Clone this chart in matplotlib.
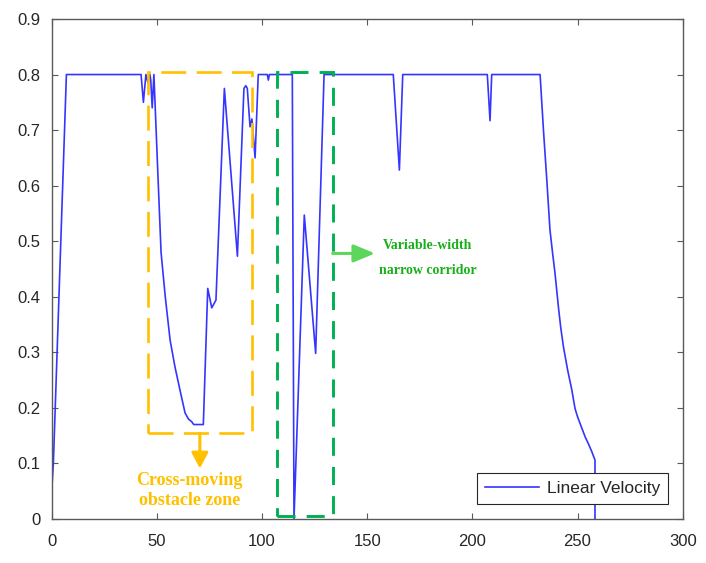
import numpy as np
import matplotlib
matplotlib.use('Agg')
import matplotlib.pyplot as plt
from matplotlib.patches import Rectangle, FancyArrowPatch

# --- Data ---
t = [0, 0.8, 7.0, 42.5, 43.6, 44.8, 45.8, 46.7, 47.1, 47.8, 48.6,
     50.5, 52.0, 54.0, 56.3, 58.6, 61.0, 63.4, 65.0, 66.6, 67.5, 72.1, 74.2, 76.1, 78.1,
     82.1, 88.3, 91.4, 92.3, 93.0, 94.3, 95.2, 96.7, 98.2,
     102.5, 103.0, 103.5, 114.4, 115.2, 120.1, 125.5, 129.5,
     162.4, 165.3, 166.9, 207.1, 208.4, 209.2, 232.2,
     233.0, 233.8, 234.6, 235.4, 236.9, 238.1, 239.3, 240.9, 242.0, 243.3, 245.3,
     247.3, 248.8, 250.0, 251.2, 252.4, 253.6, 255.2, 256.8, 258.3, 258.3]
velocity = [0.05, 0.10, 0.80, 0.80, 0.75, 0.80, 0.785, 0.80, 0.79, 0.74, 0.80,
            0.62, 0.48, 0.40, 0.322, 0.274, 0.232, 0.191, 0.18, 0.175, 0.17, 0.17, 0.415, 0.38, 0.394,
            0.775, 0.473, 0.775, 0.78, 0.775, 0.706, 0.72, 0.65, 0.80,
            0.80, 0.79, 0.80, 0.80, 0.0, 0.547, 0.298, 0.80,
            0.80, 0.628, 0.80, 0.80, 0.717, 0.80, 0.80,
            0.75, 0.70, 0.655, 0.61, 0.52, 0.48, 0.442, 0.382, 0.345, 0.31, 0.268,
            0.232, 0.199, 0.184, 0.172, 0.16, 0.148, 0.135, 0.121, 0.106, 0.0]

x_ticks = [0, 50, 100, 150, 200, 250, 300]
y_ticks = [0, 0.1, 0.2, 0.3, 0.4, 0.5, 0.6, 0.7, 0.8, 0.9]
y_tick_labels = ['0', '0.1', '0.2', '0.3', '0.4', '0.5', '0.6', '0.7', '0.8', '0.9']

# vung danh dau (x0, x1, y0, y1)
obstacle_box = [45.9, 95.0, 0.154, 0.805]
corridor_box = [107.3, 133.6, 0.005, 0.804]

plt.rcParams['font.family'] = ['Liberation Sans', 'DejaVu Sans']
plt.rcParams['lines.scale_dashes'] = False

axis_color = '#595959'
orange = '#FFC000'
green_box = '#00B050'
green_arrow = '#5CD65C'
green_text = '#18B018'

fig = plt.figure(figsize=(7.06, 5.63), dpi=100)
ax = fig.add_axes([0.0732, 0.0782, 0.8938, 0.8881])

ax.plot(t, velocity, color='#3535FF', lw=1.2, label='Linear Velocity')

# khung nét đứt
bx = Rectangle((obstacle_box[0], obstacle_box[2]), obstacle_box[1] - obstacle_box[0],
               obstacle_box[3] - obstacle_box[2], fill=False, edgecolor=orange,
               lw=1.9, linestyle=(0, (18, 7.5)), zorder=3)
ax.add_patch(bx)
gx = Rectangle((corridor_box[0], corridor_box[2]), corridor_box[1] - corridor_box[0],
               corridor_box[3] - corridor_box[2], fill=False, edgecolor=green_box,
               lw=2.1, linestyle=(0, (13, 8)), zorder=3)
ax.add_patch(gx)

# mũi tên
mid_x = (obstacle_box[0] + obstacle_box[1]) / 2
arr1 = FancyArrowPatch((mid_x, obstacle_box[2]), (mid_x, 0.091),
                       arrowstyle='-|>,head_length=0.47,head_width=0.25',
                       mutation_scale=20, color=orange, lw=2.2,
                       shrinkA=0, shrinkB=0, zorder=4)
ax.add_patch(arr1)
arr2 = FancyArrowPatch((corridor_box[1], 0.478), (153.7, 0.478),
                       arrowstyle='-|>,head_length=0.65,head_width=0.27',
                       mutation_scale=20, color=green_arrow, lw=2.2,
                       shrinkA=0, shrinkB=0, zorder=4)
ax.add_patch(arr2)

ax.text(65.4, 0.070, 'Cross-moving', color=orange, fontsize=13, fontweight='bold',
        family='Liberation Serif', ha='center', va='center')
ax.text(65.4, 0.034, 'obstacle zone', color=orange, fontsize=13, fontweight='bold',
        family='Liberation Serif', ha='center', va='center')
ax.text(178.9, 0.493, 'Variable-width', color=green_text, fontsize=10, fontweight='bold',
        family='Liberation Serif', ha='center', va='center')
ax.text(178.9, 0.448, 'narrow corridor', color=green_text, fontsize=10, fontweight='bold',
        family='Liberation Serif', ha='center', va='center')

ax.set_xlim(0, 300)
ax.set_ylim(0, 0.9)
ax.set_xticks(x_ticks)
ax.set_yticks(y_ticks)
ax.set_yticklabels(y_tick_labels)
ax.tick_params(direction='in', length=4, width=0.8, color=axis_color,
               labelcolor='#262626', labelsize=12, top=True, right=True)
ax.tick_params(axis='x', pad=10.5)
ax.tick_params(axis='y', pad=8)
for s in ax.spines.values():
    s.set_color(axis_color)
    s.set_linewidth(1.0)

leg = ax.legend(loc='lower right', fontsize=12.5, handlelength=3.1, handletextpad=0.45,
                borderpad=0.45, borderaxespad=0.85, fancybox=False, framealpha=1)
leg.get_frame().set_edgecolor('#262626')
leg.get_frame().set_linewidth(0.8)
for txt in leg.get_texts():
    txt.set_color('#262626')

fig.savefig('out.png', dpi=100)
